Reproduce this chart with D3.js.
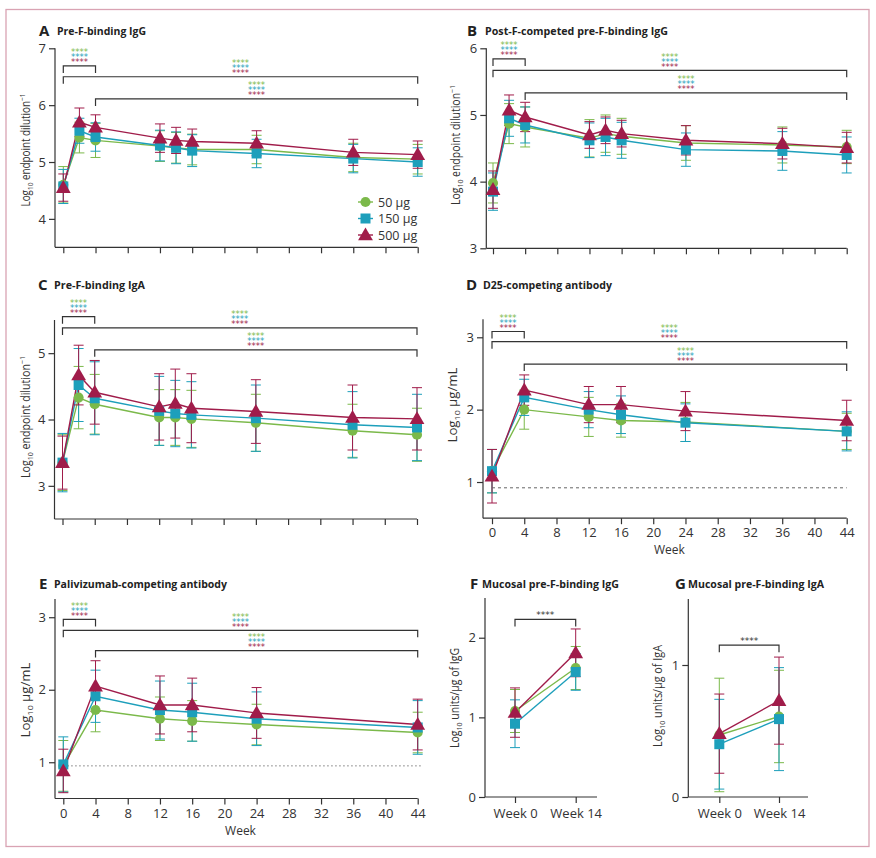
<!DOCTYPE html>
<html><head><meta charset="utf-8">
<script src="https://cdn.jsdelivr.net/npm/d3@7"></script>
<style>body{margin:0;background:#fff}svg{display:block}</style>
</head><body>
<svg id="chart" width="876" height="858"></svg>
<script>
// ---------------- DATA ----------------
const doseLabels = ["50 µg", "150 µg", "500 µg"];
const weeksLong = [0, 2, 4, 12, 14, 16, 24, 36, 44];
const weeksShort = [0, 4, 12, 16, 24, 44];
const mucosalTimes = ["Week 0", "Week 14"];
const weekTicks = [0, 4, 8, 12, 16, 20, 24, 28, 32, 36, 40, 44];

const A_50  = [4.60, 5.43, 5.38, 5.28, 5.25, 5.22, 5.22, 5.08, 5.05];
const A_150 = [4.57, 5.55, 5.44, 5.29, 5.25, 5.20, 5.15, 5.06, 5.00];
const A_500 = [4.55, 5.70, 5.61, 5.42, 5.38, 5.36, 5.33, 5.17, 5.13];
const A_50_sd  = [0.32, 0.27, 0.30, 0.27, 0.27, 0.27, 0.25, 0.25, 0.26];
const A_150_sd = [0.30, 0.22, 0.25, 0.27, 0.28, 0.28, 0.25, 0.25, 0.25];
const A_500_sd = [0.24, 0.25, 0.22, 0.25, 0.23, 0.22, 0.22, 0.23, 0.24];

const B_50  = [3.98, 4.87, 4.82, 4.65, 4.72, 4.68, 4.58, 4.55, 4.52];
const B_150 = [3.85, 4.95, 4.85, 4.62, 4.67, 4.62, 4.48, 4.46, 4.40];
const B_500 = [3.88, 5.07, 4.97, 4.70, 4.77, 4.72, 4.62, 4.57, 4.51];
const B_50_sd  = [0.30, 0.30, 0.30, 0.28, 0.28, 0.27, 0.26, 0.27, 0.25];
const B_150_sd = [0.28, 0.27, 0.27, 0.26, 0.28, 0.27, 0.25, 0.29, 0.27];
const B_500_sd = [0.28, 0.23, 0.22, 0.20, 0.20, 0.20, 0.22, 0.23, 0.23];

const C_50  = [3.35, 4.33, 4.23, 4.03, 4.03, 4.01, 3.95, 3.83, 3.77];
const C_150 = [3.35, 4.52, 4.32, 4.13, 4.09, 4.07, 4.02, 3.92, 3.88];
const C_500 = [3.35, 4.67, 4.41, 4.19, 4.24, 4.17, 4.12, 4.03, 4.01];
const C_50_sd  = [0.42, 0.47, 0.45, 0.42, 0.42, 0.43, 0.43, 0.40, 0.40];
const C_150_sd = [0.44, 0.55, 0.55, 0.52, 0.50, 0.50, 0.50, 0.50, 0.50];
const C_500_sd = [0.40, 0.45, 0.48, 0.50, 0.52, 0.52, 0.48, 0.49, 0.47];

const D_50  = [1.15, 2.00, 1.90, 1.85, 1.83, 1.70];
const D_150 = [1.15, 2.17, 2.00, 1.93, 1.82, 1.70];
const D_500 = [1.08, 2.27, 2.07, 2.07, 1.98, 1.85];
const D_50_sd  = [0.30, 0.27, 0.27, 0.23, 0.27, 0.25];
const D_150_sd = [0.30, 0.25, 0.25, 0.26, 0.26, 0.27];
const D_500_sd = [0.37, 0.21, 0.25, 0.25, 0.27, 0.28];

const E_50  = [0.95, 1.72, 1.60, 1.57, 1.52, 1.41];
const E_150 = [0.97, 1.91, 1.72, 1.69, 1.60, 1.48];
const E_500 = [0.88, 2.05, 1.79, 1.79, 1.68, 1.52];
const E_50_sd  = [0.35, 0.30, 0.30, 0.28, 0.28, 0.28];
const E_150_sd = [0.38, 0.36, 0.40, 0.40, 0.37, 0.37];
const E_500_sd = [0.30, 0.35, 0.40, 0.37, 0.35, 0.35];

const F_50  = [1.08, 1.62];
const F_150 = [0.92, 1.57];
const F_500 = [1.06, 1.81];
const F_50_sd  = [0.27, 0.27];
const F_150_sd = [0.30, 0.23];
const F_500_sd = [0.31, 0.30];

const G_50  = [0.47, 0.61];
const G_150 = [0.40, 0.59];
const G_500 = [0.48, 0.73];
const G_50_sd  = [0.43, 0.35];
const G_150_sd = [0.34, 0.39];
const G_500_sd = [0.30, 0.33];

// significance brackets: [from, to, level]
const A_brackets = [[0, 4, 6.69], [0, 44, 6.50], [4, 44, 6.11]];
const B_brackets = [[0, 4, 5.84], [0, 44, 5.67], [4, 44, 5.33]];
const C_brackets = [[0, 4, 5.55], [0, 44, 5.38], [4, 44, 5.05]];
const D_brackets = [[0, 4, 3.08], [0, 44, 2.94], [4, 44, 2.63]];
const E_brackets = [[0, 4, 2.97], [0, 44, 2.82], [4, 44, 2.54]];
const F_brackets = [["Week 0", "Week 14", 2.23]];
const G_brackets = [["Week 0", "Week 14", 1.15]];
const D_threshold = 0.92;
const E_threshold = 0.95;

// ---------------- STYLE ----------------
const colors = ["#7bb94a", "#1d9fbb", "#a01c4a"];
const shapes = [d3.symbolCircle, d3.symbolSquare, d3.symbolTriangle];
const shapeSize = [80, 100, 95];
const axisColor = "#333";
const FONT = "'Open Sans', 'DejaVu Sans', sans-serif";

const svg = d3.select("#chart");
svg.append("rect").attr("x", 6).attr("y", 9.5).attr("width", 863).attr("height", 837)
  .attr("fill", "none").attr("stroke", "#d9a3b3").attr("stroke-width", 1.3);

const panels = [
  { letter: "A", title: "Pre-F-binding IgG", tw: 89, lx: 39, tx: 57, ty: 36,
    weeks: weeksLong, series: [A_50, A_150, A_500], sds: [A_50_sd, A_150_sd, A_500_sd],
    xr: [63.3, 417.7], yd: [3.5, 7], yr: [247.3, 48.3], ax: 55, yticks: [4, 5, 6, 7],
    xlabels: false, brackets: A_brackets, ylabel: "endpoint", lblX: 26, lblY: 150, lblLen: 113 },
  { letter: "B", title: "Post-F-competed pre-F-binding IgG", tw: 183, lx: 467, tx: 485, ty: 36,
    weeks: weeksLong, series: [B_50, B_150, B_500], sds: [B_50_sd, B_150_sd, B_500_sd],
    xr: [493, 846.7], yd: [3, 6], yr: [248.3, 48.3], ax: 486.3, yticks: [3, 4, 5, 6],
    xlabels: false, brackets: B_brackets, ylabel: "endpoint", lblX: 456, lblY: 145, lblLen: 120 },
  { letter: "C", title: "Pre-F-binding IgA", tw: 91, lx: 38, tx: 54, ty: 290,
    weeks: weeksLong, series: [C_50, C_150, C_500], sds: [C_50_sd, C_150_sd, C_500_sd],
    xr: [62.5, 417], yd: [2.5, 5.5], yr: [519, 320], ax: 54.5, yticks: [3, 4, 5],
    xlabels: false, brackets: C_brackets, ylabel: "endpoint", lblX: 26, lblY: 417, lblLen: 122 },
  { letter: "D", title: "D25-competing antibody", tw: 129, lx: 466, tx: 483, ty: 290,
    weeks: weeksShort, series: [D_50, D_150, D_500], sds: [D_50_sd, D_150_sd, D_500_sd],
    xr: [492, 846.7], yd: [0.5, 3.25], yr: [518.2, 319.2], ax: 483, yticks: [1, 2, 3],
    xlabels: true, brackets: D_brackets, ylabel: "ug", lblX: 453, lblY: 405, lblLen: 75,
    threshold: D_threshold, dash: "3,3" },
  { letter: "E", title: "Palivizumab-competing antibody", tw: 173, lx: 39, tx: 54, ty: 589,
    weeks: weeksShort, series: [E_50, E_150, E_500], sds: [E_50_sd, E_150_sd, E_500_sd],
    xr: [63.3, 417.7], yd: [0.5, 3.25], yr: [798.5, 599.1], ax: 55, yticks: [1, 2, 3],
    xlabels: true, brackets: E_brackets, ylabel: "ug", lblX: 26, lblY: 700, lblLen: 75,
    threshold: E_threshold, dash: "1.3,2.7" },
  { letter: "F", title: "Mucosal pre-F-binding IgG", tw: 137, lx: 470, tx: 482, ty: 589,
    cats: mucosalTimes, series: [F_50, F_150, F_500], sds: [F_50_sd, F_150_sd, F_500_sd],
    xr: [515, 575.7], axEnd: 597, yd: [0, 2.5], yr: [797, 597.9], ax: 485, yticks: [0, 1, 2],
    brackets: F_brackets, ylabel: "IgG", lblX: 455, lblY: 698, lblLen: 100 },
  { letter: "G", title: "Mucosal pre-F-binding IgA", tw: 136, lx: 675, tx: 688, ty: 589,
    cats: mucosalTimes, series: [G_50, G_150, G_500], sds: [G_50_sd, G_150_sd, G_500_sd],
    xr: [719.3, 779], axEnd: 808, yd: [0, 1.5], yr: [797, 599], ax: 688.3, yticks: [0, 1],
    brackets: G_brackets, ylabel: "IgA", lblX: 658, lblY: 696, lblLen: 102 }
];

function yLabel(g, p) {
  const t = g.append("text")
    .attr("transform", `translate(${p.lblX + 4},${p.lblY}) rotate(-90)`)
    .attr("text-anchor", "middle").attr("font-family", FONT).attr("font-size", 12)
    .attr("fill", "#333");
  t.append("tspan").text("Log");
  t.append("tspan").attr("font-size", 8).attr("dy", 3).text("10");
  if (p.ylabel === "endpoint") {
    t.append("tspan").attr("dy", -3).text(" endpoint dilution");
    t.append("tspan").attr("font-size", 8).attr("dy", -5).text("−1");
  } else if (p.ylabel === "ug") {
    t.append("tspan").attr("dy", -3).text(" µg/mL");
  } else {
    t.append("tspan").attr("dy", -3).text(" units/µg of " + p.ylabel);
  }
  t.attr("textLength", p.lblLen).attr("lengthAdjust", "spacingAndGlyphs");
}

panels.forEach(p => {
  const g = svg.append("g");
  // title
  g.append("text").attr("x", p.lx).attr("y", p.ty).attr("font-family", FONT)
    .attr("font-weight", 700).attr("font-size", 15).attr("fill", "#222").text(p.letter);
  g.append("text").attr("x", p.tx).attr("y", p.ty - 1).attr("font-family", FONT)
    .attr("font-weight", 700).attr("font-size", 11).attr("fill", "#222")
    .attr("textLength", p.tw).attr("lengthAdjust", "spacingAndGlyphs").text(p.title);

  const y = d3.scaleLinear().domain(p.yd).range(p.yr);
  let x, xEnd;
  if (p.cats) {
    x = d3.scalePoint().domain(p.cats).range(p.xr);
    xEnd = p.axEnd;
  } else {
    x = d3.scaleLinear().domain([0, 44]).range(p.xr);
    xEnd = p.xr[1];
  }

  // y axis
  const yAxis = d3.axisLeft(y).tickValues(p.yticks).tickSize(6).tickPadding(3)
    .tickFormat(d3.format("d"));
  const ya = g.append("g").attr("transform", `translate(${p.ax},0)`).call(yAxis);
  ya.select(".domain").attr("d", `M0,${p.yr[0]}V${p.yr[1]}`);

  // x axis
  const xg = g.append("g").attr("transform", `translate(0,${p.yr[0]})`);
  if (p.cats) {
    xg.call(d3.axisBottom(x).tickSize(6).tickPadding(6));
  } else {
    xg.call(d3.axisBottom(x).tickValues(weekTicks).tickSize(6).tickPadding(4)
      .tickFormat(p.xlabels ? d3.format("d") : ""));
  }
  xg.select(".domain").attr("d", `M${p.ax},0H${xEnd}`);
  [ya, xg].forEach(a => {
    a.selectAll("path,line").attr("stroke", axisColor).attr("stroke-width", 1.2);
    a.selectAll("text").attr("font-family", FONT).attr("font-size", 13).attr("fill", "#333");
  });
  if (p.xlabels) {
    g.append("text").attr("x", (p.xr[0] + p.xr[1]) / 2).attr("y", p.yr[0] + 36)
      .attr("text-anchor", "middle").attr("font-family", FONT).attr("font-size", 12)
      .attr("fill", "#333").text("Week");
  }
  yLabel(g, p);

  // threshold line
  if (p.threshold !== undefined) {
    g.append("line").attr("x1", x(0)).attr("x2", p.letter === "E" ? x(44) + 5 : x(44))
      .attr("y1", y(p.threshold)).attr("y2", y(p.threshold))
      .attr("stroke", "#666").attr("stroke-width", 1).attr("stroke-dasharray", p.dash);
  }

  // brackets
  p.brackets.forEach((b) => {
    const x1 = x(b[0]), x2 = x(b[1]), yy = y(b[2]);
    g.append("path").attr("d", `M${x1},${yy + 7}V${yy}H${x2}V${yy + 7}`)
      .attr("fill", "none").attr("stroke", axisColor).attr("stroke-width", 1.2);
    const cx = (x1 + x2) / 2;
    if (p.cats) {
      g.append("text").attr("x", cx).attr("y", yy - 1).attr("text-anchor", "middle")
        .attr("font-family", "'DejaVu Sans', sans-serif").attr("font-size", 9)
        .attr("fill", "#333").text("****");
    } else {
      // one text element holding the three stacked coloured rows
      const st = g.append("text").attr("text-anchor", "middle")
        .attr("font-family", "'DejaVu Sans', sans-serif").attr("font-size", 8.5);
      colors.forEach((c, i) => {
        st.append("tspan").attr("x", cx).attr("y", yy - 0.5 - (2 - i) * 5)
          .attr("fill", c).text("****");
      });
    }
  });

  const xs = p.cats ? p.cats : p.weeks;
  // lines
  p.series.forEach((s, i) => {
    const pts = s.map((v, j) => [x(xs[j]), y(v)]);
    g.append("path").attr("d", d3.line()(pts)).attr("fill", "none")
      .attr("stroke", colors[i]).attr("stroke-width", 1.4);
  });
  // error bars
  p.series.forEach((s, i) => {
    s.forEach((v, j) => {
      const cx = x(xs[j]), lo = y(v - p.sds[i][j]), hi = y(v + p.sds[i][j]);
      const eg = g.append("g").attr("stroke", colors[i]).attr("stroke-width", 1);
      eg.append("line").attr("x1", cx).attr("x2", cx).attr("y1", lo).attr("y2", hi);
      eg.append("line").attr("x1", cx - 5).attr("x2", cx + 5).attr("y1", lo).attr("y2", lo);
      eg.append("line").attr("x1", cx - 5).attr("x2", cx + 5).attr("y1", hi).attr("y2", hi);
    });
  });
  // markers
  p.series.forEach((s, i) => {
    const sym = d3.symbol().type(shapes[i]).size(shapeSize[i]);
    s.forEach((v, j) => {
      g.append("path").attr("d", sym())
        .attr("transform", `translate(${x(xs[j])},${y(v) + (i === 2 ? 1 : 0)})`)
        .attr("fill", colors[i]);
    });
  });
});

// legend (panel A)
const leg = svg.append("g");
doseLabels.forEach((d, i) => {
  const yy = 202 + i * 16.5;
  leg.append("line").attr("x1", 358).attr("x2", 373).attr("y1", yy).attr("y2", yy)
    .attr("stroke", colors[i]).attr("stroke-width", 1.4);
  leg.append("path").attr("d", d3.symbol().type(shapes[i]).size(shapeSize[i])())
    .attr("transform", `translate(365.5,${yy + (i === 2 ? 1 : 0)})`).attr("fill", colors[i]);
  leg.append("text").attr("x", 378).attr("y", yy + 4.5).attr("font-family", FONT)
    .attr("font-size", 12.5).attr("fill", "#333").text(d);
});
</script>
</body></html>
